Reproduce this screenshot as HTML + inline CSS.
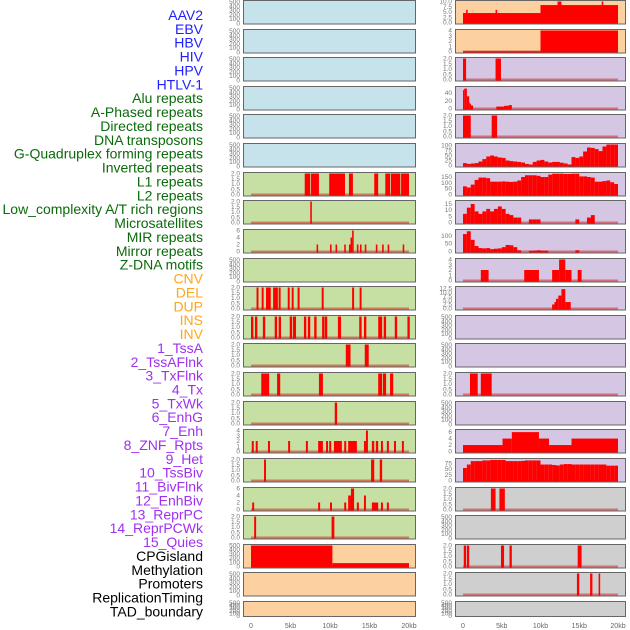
<!DOCTYPE html>
<html><head><meta charset="utf-8"><style>
body{margin:0;background:#fff;width:630px;height:630px;overflow:hidden}
svg{display:block}
</style></head><body>
<svg id="chart" width="630" height="630" xmlns="http://www.w3.org/2000/svg" font-family="Liberation Sans, sans-serif"></svg>
<script>
const labels=["AAV2","EBV","HBV","HIV","HPV","HTLV-1","Alu repeats","A-Phased repeats","Directed repeats","DNA transposons","G-Quadruplex forming repeats","Inverted repeats","L1 repeats","L2 repeats","Low_complexity A/T rich regions","Microsatellites","MIR repeats","Mirror repeats","Z-DNA motifs","CNV","DEL","DUP","INS","INV","1_TssA","2_TssAFlnk","3_TxFlnk","4_Tx","5_TxWk","6_EnhG","7_Enh","8_ZNF_Rpts","9_Het","10_TssBiv","11_BivFlnk","12_EnhBiv","13_ReprPC","14_ReprPCWk","15_Quies","CPGisland","Methylation","Promoters","ReplicationTiming","TAD_boundary"];
const xTicks=[0,5,10,15,20];
const xTickLabels=["0","5kb","10kb","15kb","20kb"];
const leftColors=["#c6e3ec","#c6e3ec","#c6e3ec","#c6e3ec","#c6e3ec","#c6e3ec","#c6e0a4","#c6e0a4","#c6e0a4","#c6e0a4","#c6e0a4","#c6e0a4","#c6e0a4","#c6e0a4","#c6e0a4","#c6e0a4","#c6e0a4","#c6e0a4","#c6e0a4","#fdd09f","#fdd09f","#fdd09f"];
const rightColors=["#fdd09f","#fdd09f","#d5c6e3","#d5c6e3","#d5c6e3","#d5c6e3","#d5c6e3","#d5c6e3","#d5c6e3","#d5c6e3","#d5c6e3","#d5c6e3","#d5c6e3","#d5c6e3","#d5c6e3","#d5c6e3","#d5c6e3","#cfcfcf","#cfcfcf","#cfcfcf","#cfcfcf","#cfcfcf"];
const leftYMax=[1,1,1,1,1,1,2,2,6,1,2,2,2,2,2,4,2,6,2,500,1,1];
const rightYMax=[10,4,2,55,2,105,180,17,135,4,13,1,1,2,1,6.5,92,2,1,2,2,1];
const leftTicks=[null,null,null,null,null,null,[0,0.5,1,1.5,2],[0,0.5,1,1.5,2],[0,2,4,6],null,[0,0.5,1,1.5,2],[0,0.5,1,1.5,2],[0,0.5,1,1.5,2],[0,0.5,1,1.5,2],[0,0.5,1,1.5,2],[0,1,2,3,4],[0,0.5,1,1.5,2],[0,2,4,6],[0,0.5,1,1.5,2],[0,100,200,300,400,500],null,null];
const rightTicks=[[0,2.5,5,7.5,10],[0,1,2,3,4],[0,0.5,1,1.5,2],[0,20,40],[0,0.5,1,1.5,2],[0,25,50,75,100],[0,50,100,150],[0,5,10,15],[0,50,100],[0,1,2,3,4],[0,2.5,5,7.5,10,12.5],null,null,[0,0.5,1,1.5,2],null,[0,2,4,6],[0,25,50,75],[0,0.5,1,1.5,2],null,[0,0.5,1,1.5,2],[0,0.5,1,1.5,2],null];
const L6=[[6.8,7.5,2],[7.6,8.6,2],[9.9,11.9,2],[12.4,12.9,2],[15.6,16.1,2],[17.0,17.6,2],[17.7,18.9,2],[19.0,20.0,2]];
const L7=[[7.5,7.7,2]];
const L8=[[8.3,8.5,2],[10.0,10.2,2],[10.7,10.9,2],[11.8,12.0,2],[12.4,12.6,2],[12.6,12.8,4],[12.8,13.0,6],[13.4,13.6,2],[13.8,14.0,2],[14.4,14.6,2],[15.8,16.0,2],[16.6,16.8,2],[17.3,17.5,2],[19.2,19.4,2]];
const L10=[[0.7,0.95,2],[1.35,1.6,2],[1.9,2.5,2],[2.8,3.4,2],[3.5,3.75,2],[4.65,4.9,2],[5.15,5.4,2],[5.9,6.15,2],[8.95,9.2,2],[12.8,13.05,2],[13.75,14.0,2]];
const L11=[[0,0.3,2],[0.5,0.8,2],[1.5,1.8,2],[3.0,3.3,2],[3.5,3.8,2],[4.9,5.2,2],[5.3,5.7,2],[6.7,7.0,2],[7.2,7.5,2],[8.0,8.3,2],[9.0,9.3,2],[9.35,9.65,2],[11.0,11.4,2],[13.7,14.0,2],[14.3,14.6,2],[16.1,16.6,2],[16.8,17.1,2],[18.2,18.5,2],[19.8,20.1,2]];
const L12=[[12.0,12.6,2],[14.4,14.9,2]];
const L13=[[1.3,2.3,2],[3.3,3.7,2],[8.6,9.1,2],[16.1,16.6,2],[16.7,17.1,2],[17.6,18.0,2]];
const L14=[[10.6,10.9,2]];
const L15=[[0.1,0.35,2],[0.6,0.85,2],[2.15,2.4,2],[4.7,4.95,2],[6.95,7.2,2],[8.5,9.1,2],[9.5,9.75,2],[9.9,10.15,2],[10.5,11.5,2],[11.8,12.05,2],[12.3,13.4,2],[14.3,14.55,2],[14.55,14.8,4],[15.3,15.6,2],[15.8,16.1,2],[16.45,16.7,2],[17.2,17.45,2],[18.1,18.35,2],[19.1,19.35,2]];
const L16=[[1.65,1.9,2],[15.2,15.6,2],[16.3,16.6,2]];
const L17=[[0.15,0.4,2],[8.5,8.75,2],[10.0,10.25,2],[11.8,12.05,2],[12.3,12.65,4],[12.65,13.05,6],[13.4,13.65,2],[14.3,14.55,4],[15.3,16.1,2],[16.45,16.7,2],[17.2,17.45,2]];
const L18=[[0.4,0.65,2],[10.2,10.55,2]];
const L19=[[0,10.3,500],[10.3,20,80]];
const R0=[[0,10,4.5],[0.4,0.6,6],[4.2,4.4,6],[10,20,8.3],[12.2,12.7,10],[17.9,18.1,10]];
const R1=[[0,10,0.05],[10,20,4]];
const R2=[[0,0.4,2],[4.2,4.9,2]];
const R3=[[0,0.15,48],[0.15,0.5,52],[0.5,0.8,32],[0.8,0.9,15],[0.9,1.0,12],[1.0,1.3,8],[4.3,5.3,5],[5.3,5.9,7],[5.9,6.3,9]];
const R4=[[0,1,2],[3.7,4.4,2]];
const R9=[[2.3,3.3,2],[7.9,9.8,2],[11.5,12.4,2],[12.4,13.2,4],[13.2,14.0,2],[14.8,15.3,2]];
const R10=[[11.5,11.8,2.5],[11.8,12.0,4],[12.0,12.3,6],[12.3,12.7,8],[12.7,13.2,12],[13.2,13.9,4]];
const R13=[[0.9,1.9,2],[2.3,3.7,2]];
const R15=[[0,5.1,2],[5.1,6.3,4],[6.3,9.8,6],[9.8,11.1,4],[11.1,14.0,2],[14.0,20,4]];
const R17=[[3.6,4.2,2],[4.7,5.4,2]];
const R19=[[0.1,0.4,2],[0.5,0.8,2],[4.9,5.3,2],[6.0,6.3,2],[14.8,15.3,2]];
const R20=[[14.7,15.0,2],[16.4,16.7,2],[17.5,17.7,2]];
const R5bins=[12,8,10,12,20,32,45,50,45,40,38,25,22,20,18,15,8,5,18,25,28,20,15,18,18,14,10,5,42,38,45,70,90,88,82,72,95,105,105,105];
const R6bins=[70,60,85,125,145,145,140,110,110,110,112,110,108,110,120,150,165,165,165,160,150,150,170,178,178,178,176,176,178,178,155,155,150,145,110,110,115,120,105,90];
const R7bins=[7,12,15,9,7,9,11,9,11,13,11,7,6,4,4,0,0,2.5,2.5,2.5,0,0,0,0,0,0,0,0,0,2.5,0,0,4,6,0,0,0,0,0,0];
const R8bins=[112,130,75,35,22,20,22,15,18,20,28,42,40,28,8,0,0,5,6,8,6,6,0,0,0,0,0,0,0,8,0,0,0,0,0,0,0,0,0,0];
const R16bins=[55,70,85,85,85,88,88,90,90,90,90,85,85,85,85,86,88,88,88,88,70,70,70,68,66,70,72,72,70,70,70,70,70,70,70,70,70,65,65,65];
function bins(b){return b.map((v,i)=>[i*0.5,i*0.5+0.5,v]);}
const leftData=[[],[],[],[],[],[],L6,L7,L8,[],L10,L11,L12,L13,L14,L15,L16,L17,L18,L19,[],[]];
const rightData=[R0,R1,R2,R3,R4,bins(R5bins),bins(R6bins),bins(R7bins),bins(R8bins),R9,R10,[],[],R13,[],R15,bins(R16bins),R17,[],R19,R20,[]];

const NS="http://www.w3.org/2000/svg";
const svg=document.getElementById('chart');
function mk(tag,attrs,parent){const e=document.createElementNS(NS,tag);for(const k in attrs)e.setAttribute(k,attrs[k]);(parent||svg).appendChild(e);return e;}
labels.forEach((t,i)=>{
  let c=i<6?"#1f1fff":i<19?"#0a6b0a":i<24?"#ffa51f":i<39?"#a030f0":"#000";
  const e=mk('text',{x:203,y:15+i*13.87,'text-anchor':'end','dominant-baseline':'central','font-size':14,fill:c});
  e.textContent=t;
  
  
});
const cols=[{x0:243,x1:416,d0:251,d1:409,tx:240,colors:leftColors,ym:leftYMax,ticks:leftTicks,data:leftData,name:'left'},
            {x0:455,x1:626,d0:463,d1:618,tx:452,colors:rightColors,ym:rightYMax,ticks:rightTicks,data:rightData,name:'right'}];
cols.forEach(col=>{
  const xs=kb=>col.d0+(kb/20)*(col.d1-col.d0);
  for(let r=0;r<22;r++){
    const top=Math.round(r*28.62), h=r==21?16:24.5, bot=top+h;
    const g=mk('g',{});
    
    
    const rect=mk('rect',{x:col.x0+0.5,y:top+0.5,width:col.x1-col.x0-1,height:h-1,fill:col.colors[r],stroke:'#666','stroke-width':1},g);
    
    
    const y0=bot-2, yt=top+1.5;
    const ym=col.ym[r];
    const ys=v=>y0-(v/ym)*(y0-yt);
    const ticks=col.ticks[r];
    if(ticks){
      const dec=ticks.some(q=>q%1);
      ticks.forEach(v=>{const t=mk('text',{x:col.tx,y:ys(v)+2,'text-anchor':'end','font-size':6.5,fill:'#777'},g);t.textContent=dec?v.toFixed(1):String(v);
        });
    } else {
      const vals=[500,400,300,200,100,0];
      vals.forEach((v,k)=>{const yy=top+2+k*(h-3)/5;const t=mk('text',{x:col.tx,y:yy+2,'text-anchor':'end','font-size':6.5,fill:'#777'},g);t.textContent=String(v);
        });
    }
    const segs=col.data[r];
    if(segs.length){
      const bl=mk('rect',{x:xs(0),y:y0-1,width:xs(20)-xs(0),height:2,fill:'rgba(210,0,0,0.45)'},g);
      
      segs.forEach(s=>{
        if(s[2]<=0)return;
        const x=xs(s[0]),w=Math.max(1,xs(s[1])-x),y=ys(s[2]);
        const b=mk('rect',{x:x,y:y,width:w,height:y0+1-y,fill:'#ff0000'},g);
        
        
      });
    }
  }
  xTicks.forEach((v,i)=>{
    const t=mk('text',{x:xs(v),y:628,'text-anchor':'middle','font-size':7,fill:'#666'});
    t.textContent=xTickLabels[i];
    
    
  });
});
</script>
</body></html>
